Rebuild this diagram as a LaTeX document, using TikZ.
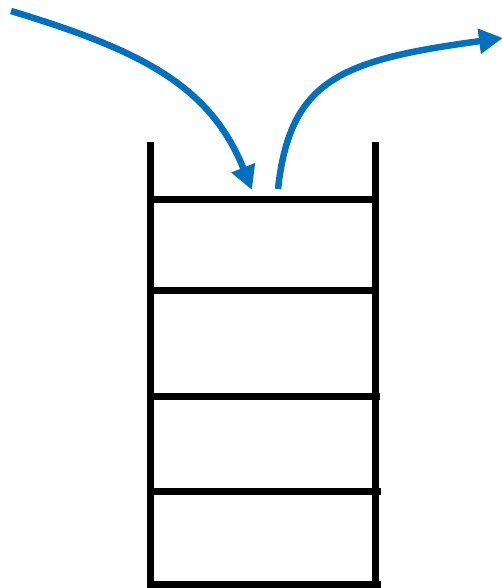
\documentclass[tikz,border=0pt]{standalone}
\usetikzlibrary{arrows.meta}
\definecolor{flowblue}{RGB}{0,112,192}
\tikzset{
  rail/.style={draw=black, line width=7pt},
  rung/.style={draw=black, line width=7pt},
  flow/.style={draw=flowblue, line width=6.5pt,
    -{Triangle[length=24pt,width=24pt]}},
}
\begin{document}
\begin{tikzpicture}[x=1pt,y=-1pt]
  \useasboundingbox (0,0) rectangle (502,588);

  % stack frame: two side walls
  \coordinate (lt) at (150,142);
  \coordinate (lb) at (150,588);
  \coordinate (rt) at (375.5,142);
  \coordinate (rb) at (375.5,588);
  \draw[rail] (lt) -- (lb);
  \draw[rail] (rt) -- (rb);

  % stack slots
  \draw[rung] (150,199) -- (375.5,199);
  \draw[rung] (150,290) -- (375.5,290);
  \draw[rung] (150,396.5) -- (380,396.5);
  \draw[rung] (150,491) -- (381,491);
  \draw[rung] (147,584.5) -- (381,584.5);

  % push and pop arrows
  \coordinate (pushsrc) at (11,11);
  \coordinate (pushdst) at (252,190);
  \coordinate (popsrc) at (278,189);
  \coordinate (popdst) at (503,38);
  \draw[flow] (pushsrc) .. controls (140,50) and (210,85) .. (pushdst);
  \draw[flow] (popsrc) .. controls (290,80) and (340,60) .. (popdst);
\end{tikzpicture}
\end{document}
